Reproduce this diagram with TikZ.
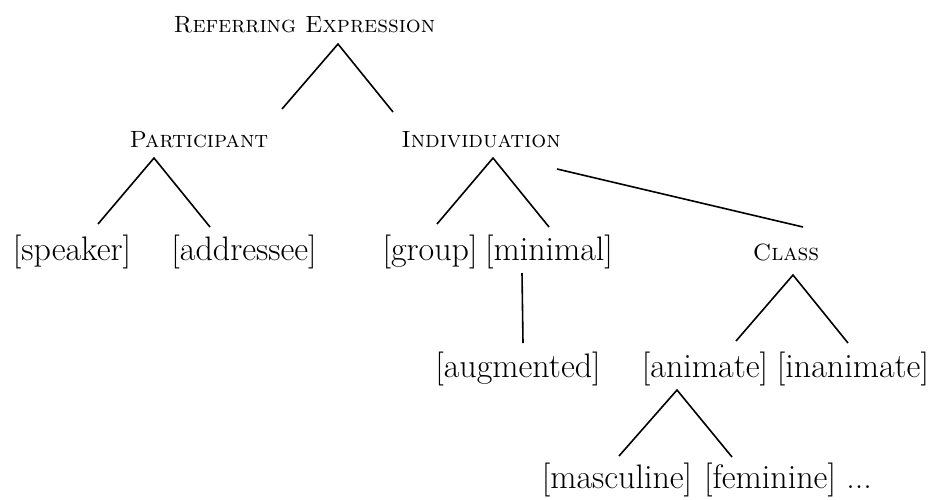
\documentclass[tikz,border=0pt]{standalone}
\usepackage{fontspec}
\usetikzlibrary{positioning}

\begin{document}
\begin{tikzpicture}[x=1pt,y=-1pt,line width=1.6pt,
  every node/.style={inner sep=0pt,anchor=base},
  cat node/.style={font=\fontsize{23.5}{28}\selectfont\scshape},
  feat node/.style={font=\fontsize{34}{40}\selectfont}]

  \tikzstyle{branch} = [draw,black]

  \useasboundingbox (0,0) rectangle (933,499);

  % categories
  \node[cat node] (refexp) at (304.5,32) {Referring Expression};
  \node[cat node] (partic) at (199,147) {Participant};
  \node[cat node] (indiv) at (481,147) {Individuation};
  \node[cat node] (class) at (786,260) {Class};

  % features
  \node[feat node] (speaker) at (72,260) {[speaker]};
  \node[feat node] (addressee) at (244,260) {[addressee]};
  \node[feat node] (group) at (430,260) {[group]};
  \node[feat node] (minimal) at (549,260) {[minimal]};
  \node[feat node] (augmented) at (518,377) {[augmented]};
  \node[feat node] (animate) at (705,377) {[animate]};
  \node[feat node] (inanimate) at (853,377) {[inanimate]};
  \node[feat node] (masculine) at (617,488) {[masculine]};
  \node[feat node] (feminine) at (770,488) {[feminine]};
  \node[feat node] (etc) at (859,488) {...};

  % forks under each mother node
  \coordinate (refexp-fork) at (338,44);
  \coordinate (partic-fork) at (154,158);
  \coordinate (indiv-fork) at (493,158);
  \coordinate (indiv-side) at (557,169);
  \coordinate (minimal-foot) at (522,273);
  \coordinate (class-fork) at (793,275);
  \coordinate (animate-fork) at (677,390);

  % tops of the daughters
  \coordinate (partic-top) at (282,109);
  \coordinate (indiv-top) at (393,112);
  \coordinate (speaker-top) at (98,224);
  \coordinate (addressee-top) at (210,227);
  \coordinate (group-top) at (437,224);
  \coordinate (minimal-top) at (549,227);
  \coordinate (class-top) at (803,227);
  \coordinate (augmented-top) at (523,343);
  \coordinate (animate-top) at (736,341);
  \coordinate (inanimate-top) at (848,343);
  \coordinate (masculine-top) at (619,456);
  \coordinate (feminine-top) at (732,457);

  \path[branch]
    (partic-top) -- (refexp-fork) -- (indiv-top)
    (speaker-top) -- (partic-fork) -- (addressee-top)
    (group-top) -- (indiv-fork) -- (minimal-top)
    (indiv-side) -- (class-top) % individuation to class
    (minimal-foot) -- (augmented-top)
    (animate-top) -- (class-fork) -- (inanimate-top)
    (masculine-top) -- (animate-fork) -- (feminine-top);
\end{tikzpicture}
\end{document}
